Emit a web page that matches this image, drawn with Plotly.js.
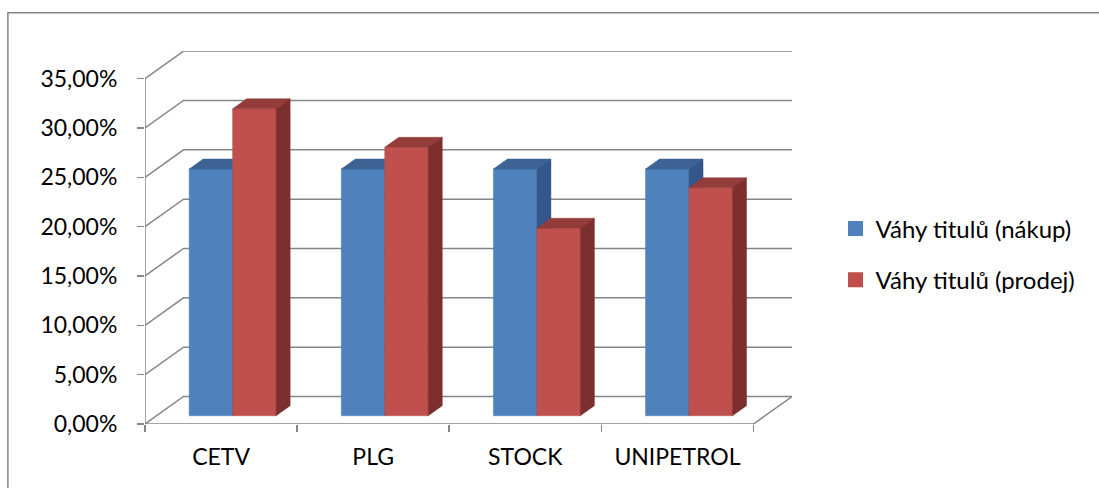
<!DOCTYPE html>
<html>
<head>
<meta charset="utf-8">
<script src="https://cdn.plot.ly/plotly-3.0.1.min.js"></script>
<style>
html,body{margin:0;padding:0;background:#fff;}
#chart{width:1099px;height:488px;}
</style>
</head>
<body>
<div id="chart"></div>
<script>
// ---- data ----
const categories = ['CETV', 'PLG', 'STOCK', 'UNIPETROL'];
const nakup = [25.0, 25.0, 25.0, 25.0];
const prodej = [31.1, 27.2, 19.0, 23.1];
const seriesNames = ['Váhy titulů (nákup)', 'Váhy titulů (prodej)'];
const yTicks = [0, 5, 10, 15, 20, 25, 30, 35];
const yTickText = yTicks.map(t => t.toFixed(2).replace('.', ',') + '%');

// ---- style / 3D projection ----
const FONT = 'Lato, "Open Sans", sans-serif';
const FS = 24, TFS = 23;
const GRID = '#868686';
const colors = [
  {front: '#4F81BD', top: '#3C6393', side: '#33578A'},
  {front: '#C0504D', top: '#943C3A', side: '#7C2F2E'}
];
const DX = 0.2533;   // depth shift in category units (full depth)
const DY = 2.788;    // depth shift in % units (full depth)
const D0 = 0.30, D1 = 0.665; // bar front / back depth
const GAP = 1.5;     // gap width relative to bar
const W = 1 / (2 + GAP);
const YMAX = 37.8;
const XMIN = -0.5, XMAX = categories.length - 0.5 + DX;

function P(x, y, d) { return [x + d * DX, y + d * DY]; }
function poly(pts) {
  const xs = pts.map(p => p[0]), ys = pts.map(p => p[1]);
  xs.push(xs[0]); ys.push(ys[0]);
  return {x: xs, y: ys};
}

const traces = [];
const nCat = categories.length;
// grid: side wall + back wall lines
yTicks.forEach(t => {
  const a = P(-0.5, t, 0), b = P(-0.5, t, 1), c = P(nCat - 0.5, t, 1);
  traces.push({x: [a[0], b[0], c[0]], y: [a[1], b[1], c[1]], mode: 'lines',
    line: {color: GRID, width: 1.5}, hoverinfo: 'skip', showlegend: false});
});
// floor front edge + right edge, and vertical value axis
{
  const a = P(-0.5, 0, 0), b = P(nCat - 0.5, 0, 0), c = P(nCat - 0.5, 0, 1);
  traces.push({x: [a[0], b[0], c[0]], y: [a[1], b[1], c[1]], mode: 'lines',
    line: {color: GRID, width: 1.5}, hoverinfo: 'skip', showlegend: false});
  const v0 = P(-0.5, 0, 0), v1 = P(-0.5, yTicks[yTicks.length - 1], 0);
  traces.push({x: [v0[0], v1[0]], y: [v0[1], v1[1]], mode: 'lines',
    line: {color: GRID, width: 1.5}, hoverinfo: 'skip', showlegend: false});
}

// bars
[nakup, prodej].forEach((vals, s) => {
  vals.forEach((v, i) => {
    const x0 = i - 0.5 + GAP * W / 2 + s * W, x1 = x0 + W;
    const faces = [
      ['front', [P(x0, 0, D0), P(x1, 0, D0), P(x1, v, D0), P(x0, v, D0)]],
      ['top',   [P(x0, v, D0), P(x1, v, D0), P(x1, v, D1), P(x0, v, D1)]],
      ['side',  [P(x1, 0, D0), P(x1, 0, D1), P(x1, v, D1), P(x1, v, D0)]]
    ];
    faces.forEach(([name, pts]) => {
      const pg = poly(pts);
      traces.push({x: pg.x, y: pg.y, mode: 'lines', fill: 'toself',
        fillcolor: colors[s][name], line: {color: colors[s][name], width: 0.5},
        hoverinfo: 'skip', showlegend: false});
    });
  });
});

// legend entries
seriesNames.forEach((n, s) => {
  traces.push({x: [null], y: [null], mode: 'markers', name: n, legendgroup: 'g' + s,
    marker: {symbol: 'square', size: 15, color: colors[s].front}, hoverinfo: 'skip'});
});

const L = 145, T = 51.2, B = 64;
const plotW = (XMAX - XMIN) * 152;
const plotH = YMAX * 9.863;
const layout = {
  width: 1099, height: 488,
  margin: {l: L, r: 1099 - L - plotW, t: T, b: B, pad: 0},
  paper_bgcolor: '#fff', plot_bgcolor: 'rgba(0,0,0,0)',
  separators: ', ',
  font: {family: FONT, size: FS, color: '#000'},
  showlegend: true,
  legend: {x: (835 - L) / plotW, xanchor: 'left', y: (424 - 254.5) / plotH, yanchor: 'middle',
    font: {family: FONT, size: FS, color: '#000'}, tracegroupgap: 17, bgcolor: 'rgba(0,0,0,0)'},
  xaxis: {range: [XMIN, XMAX], showgrid: false, zeroline: false, showline: false,
    tickmode: 'array', tickvals: categories.map((c, i) => i), ticktext: categories,
    ticks: '', ticklabelstandoff: 17, tickfont: {family: FONT, size: TFS, color: '#000'},
    minor: {tick0: -0.5, dtick: 1, ticks: 'outside', ticklen: 7, tickwidth: 1.5, tickcolor: GRID, showgrid: false},
    fixedrange: true},
  yaxis: {range: [0, YMAX], showgrid: false, zeroline: false, showline: false,
    tickmode: 'array', tickvals: yTicks, ticktext: yTickText,
    ticks: 'outside', ticklen: 7, tickwidth: 1.5, tickcolor: GRID, ticklabelstandoff: 15,
    tickfont: {family: FONT, size: TFS, color: '#000'}, fixedrange: true},
  shapes: [{type: 'path', xref: 'paper', yref: 'paper', layer: 'below',
    path: 'M ' + ((8 - L) / plotW) + ' ' + (-(B + 10) / plotH) + ' L ' + ((8 - L) / plotW) + ' ' + ((424 - 13) / plotH) +
      ' L ' + ((1110 - L) / plotW) + ' ' + ((424 - 13) / plotH),
    line: {color: GRID, width: 1.5}}]
};
Plotly.newPlot('chart', traces, layout, {displayModeBar: false, staticPlot: true});
</script>
</body>
</html>
